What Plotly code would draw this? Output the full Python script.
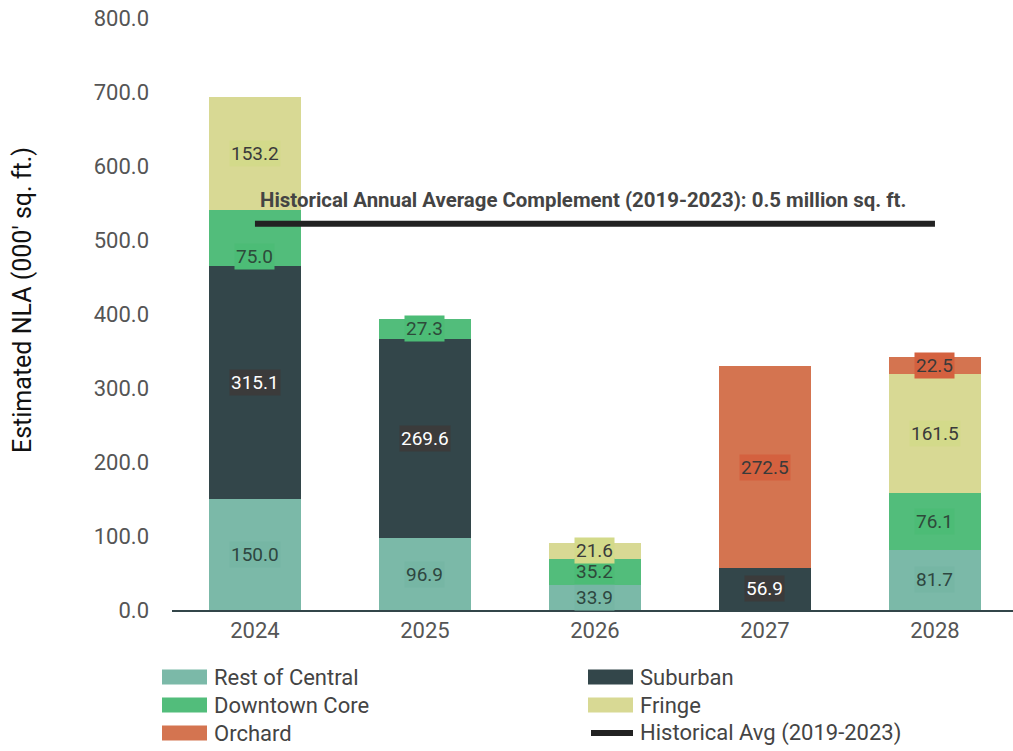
import plotly.graph_objects as go

# Supply pipeline by submarket, thousand sq. ft.
years = ["2024", "2025", "2026", "2027", "2028"]
rest_of_central = [150.0, 96.9, 33.9, 0, 81.7]
suburban = [315.1, 269.6, 0, 56.9, 0]
downtown_core = [75.0, 27.3, 35.2, 0, 76.1]
fringe = [153.2, 0, 21.6, 0, 161.5]
orchard = [0, 0, 0, 272.5, 22.5]
historical_avg = 522.0
y_ticks = [0, 100, 200, 300, 400, 500, 600, 700, 800]

FONT = "Roboto"

series = [
    # name, values, bar colour, label box colour, label text colour
    ("Rest of Central", rest_of_central, "#7bb9a8", "#76b6a4", "#2e4640"),
    ("Suburban", suburban, "#33464a", "#3b3b3b", "#ffffff"),
    ("Downtown Core", downtown_core, "#52bd7b", "#4cbc76", "#2e4a3a"),
    ("Fringe", fringe, "#d8d994", "#d3da8a", "#3a3a3a"),
    ("Orchard", orchard, "#d47450", "#d4613f", "#3a3a3a"),
]

W, H = 1013, 751
ML, MR, MT, MB = 172, 0, 18, 141
PW, PH = W - ML - MR, H - MT - MB


def px_to_paper(px, py):
    return (px - ML) / PW, (H - MB - py) / PH


fig = go.Figure()

base = [0.0] * len(years)
annotations = []
for name, vals, color, box, txt in series:
    fig.add_trace(go.Bar(
        x=years, y=vals, name=name, marker=dict(color=color, line=dict(width=0)),
        width=0.54, showlegend=False,
    ))
    for i, v in enumerate(vals):
        if v > 0:
            shift = -18 if (name == "Downtown Core" and i == 0) else 0
            annotations.append(dict(
                x=i, y=base[i] + v / 2, xref="x", yref="y",
                text=f"{v:.1f}", showarrow=False, yshift=shift,
                font=dict(family=FONT, size=19, color=txt),
                bgcolor=box, borderpad=1,
            ))
        base[i] += v

# Historical average line
fig.add_trace(go.Scatter(
    x=years, y=[historical_avg] * len(years), mode="lines",
    line=dict(color="#222222", width=6), showlegend=False, hoverinfo="skip",
))
annotations.append(dict(
    x=2, y=historical_avg, xref="x", yref="y", yshift=24, xshift=-12,
    text="<b>Historical Annual Average Complement (2019-2023): 0.5 million sq. ft.</b>",
    showarrow=False, font=dict(family=FONT, size=20.4, color="#444444"),
))

# Y-axis title
tx, ty = px_to_paper(22, 300)
annotations.append(dict(
    x=tx, y=ty, xref="paper", yref="paper", textangle=-90,
    xanchor="center", yanchor="middle", showarrow=False,
    text="Estimated NLA (000' sq. ft.)",
    font=dict(family=FONT, size=25, color="#111111"),
))

# Two-column legend drawn below the axis
legend_items = [
    ("Rest of Central", "#7bb9a8", "box"),
    ("Suburban", "#33464a", "box"),
    ("Downtown Core", "#52bd7b", "box"),
    ("Fringe", "#d8d994", "box"),
    ("Orchard", "#d47450", "box"),
    ("Historical Avg (2019-2023)", "#222222", "line"),
]
shapes = []
col_x = [162, 588]
row_y = [677, 705, 733]
for k, (label, color, kind) in enumerate(legend_items):
    cx = col_x[k % 2]
    cy = row_y[k // 2]
    if kind == "box":
        x0, y0 = px_to_paper(cx, cy + 7.5)
        x1, y1 = px_to_paper(cx + 45, cy - 7.5)
        shapes.append(dict(type="rect", xref="paper", yref="paper",
                           x0=x0, x1=x1, y0=y0, y1=y1,
                           fillcolor=color, line=dict(width=0)))
    else:
        x0, y0 = px_to_paper(cx + 3, cy)
        x1, _ = px_to_paper(cx + 45, cy)
        shapes.append(dict(type="line", xref="paper", yref="paper",
                           x0=x0, x1=x1, y0=y0, y1=y0,
                           line=dict(color=color, width=6)))
    lx, ly = px_to_paper(cx + 50, cy)
    annotations.append(dict(
        x=lx, y=ly, xref="paper", yref="paper",
        xanchor="left", yanchor="middle", showarrow=False, text=label,
        font=dict(family=FONT, size=22, color="#444444"),
    ))

fig.update_layout(
    barmode="stack",
    width=W, height=H,
    margin=dict(l=ML, r=MR, t=MT, b=MB),
    plot_bgcolor="white", paper_bgcolor="white",
    annotations=annotations, shapes=shapes,
    showlegend=False,
    xaxis=dict(
        type="category",
        range=[-0.488, 4.459], showgrid=False, showline=True,
        linecolor="#33464a", linewidth=2, ticks="",
        tickfont=dict(family=FONT, size=22, color="#555555"),
    ),
    yaxis=dict(
        range=[0, 800], tickvals=y_ticks, tickformat=".1f", showgrid=False,
        zeroline=False, showline=False, ticks="",
        ticklabelstandoff=22,
        tickfont=dict(family=FONT, size=22, color="#555555"),
    ),
)

fig.write_html("out.html")
